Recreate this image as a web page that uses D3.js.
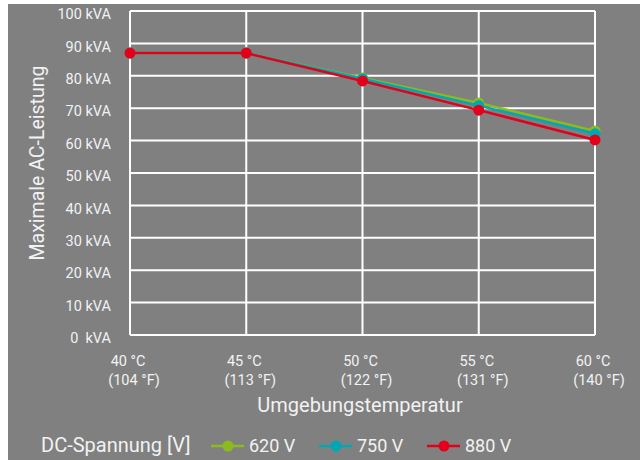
<!DOCTYPE html>
<html>
<head>
<meta charset="utf-8">
<script src="https://cdn.jsdelivr.net/npm/d3@7"></script>
<style>
  body { margin: 0; background: #fff; }
  text { font-family: "Roboto", "DejaVu Sans", sans-serif; fill: #f2f2f2; }
</style>
</head>
<body>
<svg id="chart" width="640" height="460"></svg>
<script>
"use strict";

// x categories: ambient temperature
var tempC = [40, 45, 50, 55, 60];
var tempF = [104, 113, 122, 131, 140];

// max AC power in kVA per DC voltage
var v620 = [87, 87, 79.3, 71.6, 63];
var v750 = [87, 87, 79.1, 70.8, 62.1];
var v880 = [87, 87, 78.4, 69.4, 60.2];

var yTicks = [0, 10, 20, 30, 40, 50, 60, 70, 80, 90, 100];

var series = [
  { name: "620 V", values: v620, color: "#8cbb1d" },
  { name: "750 V", values: v750, color: "#00a7b4" },
  { name: "880 V", values: v880, color: "#e2001a" }
];

var svg = d3.select("#chart");

// grey backdrop
svg.append("rect").attr("x", 8).attr("y", 4).attr("width", 632).attr("height", 456).attr("fill", "#808080");

// plot area edges
var pLeft = 130, pRight = 595, pTop = 11, pBottom = 335;

var x = d3.scalePoint().domain(tempC).range([pLeft, pRight]);
var y = d3.scaleLinear().domain([0, 100]).range([pBottom, pTop]);

//grid lines
var grid = svg.append("g");
grid.selectAll("line.h")
  .data(yTicks)
  .enter().append("line")
  .attr("class", "h")
  .attr("x1", pLeft).attr("x2", pRight)
  .attr("y1", function(d) { return y(d); })
  .attr("y2", function(d) { return y(d); })
  .attr("stroke", "#fff").attr("stroke-width", 2);
grid.selectAll("line.v")
  .data(tempC)
  .enter().append("line")
  .attr("class", "v")
  .attr("x1", function(d) { return x(d); })
  .attr("x2", function(d) { return x(d); })
  .attr("y1", pTop).attr("y2", pBottom)
  .attr("stroke", "#fff").attr("stroke-width", 2);

// y axis labels (sit a little below their grid line)
var yAxis = svg.append("g")
  .attr("transform", "translate(" + (pLeft - 19) + ",3)")
  .call(d3.axisLeft(y).tickValues(yTicks).tickSize(0).tickFormat(function(d) {
    return d === 0 ? "0\u00a0 kVA" : d + " kVA";
  }));
yAxis.select(".domain").remove();
yAxis.selectAll("text").attr("x", 0).attr("font-size", "14.5px").style("font-family", "Roboto, sans-serif").attr("fill", "#f2f2f2");

// x axis labels, two lines each
var xLab = svg.append("g").selectAll("g")
  .data(tempC)
  .enter().append("g")
  .attr("transform", function(d) { return "translate(" + x(d) + ",0)"; });
xLab.append("text")
  .attr("x", -2).attr("y", 366)
  .attr("text-anchor", "middle").attr("font-size", "14.5px")
  .text(function(d) { return d + " \u00b0C"; });
xLab.append("text")
  .attr("x", 4).attr("y", 385)
  .attr("text-anchor", "middle").attr("font-size", "14.5px")
  .text(function(d, i) { return "(" + tempF[i] + " \u00b0F)"; });

// axis titles
svg.append("text")
  .attr("transform", "translate(44,163) rotate(-90)")
  .attr("text-anchor", "middle").attr("font-size", "19.5px")
  .text("Maximale AC-Leistung");
svg.append("text")
  .attr("x", 360).attr("y", 412)
  .attr("text-anchor", "middle").attr("font-size", "20px")
  .text("Umgebungstemperatur");

// lines + markers
var line = d3.line()
  .x(function(d, i) { return x(tempC[i]); })
  .y(function(d) { return y(d); });

series.forEach(function(s) {
  var g = svg.append("g");
  g.append("path")
    .datum(s.values)
    .attr("d", line)
    .attr("fill", "none")
    .attr("stroke", s.color)
    .attr("stroke-width", 2.5);
  g.selectAll("circle")
    .data(s.values)
    .enter().append("circle")
    .attr("cx", function(d, i) { return x(tempC[i]); })
    .attr("cy", function(d) { return y(d); })
    .attr("r", 5.5)
    .attr("fill", s.color);
});

// legend
svg.append("text")
  .attr("x", 41).attr("y", 452).attr("font-size", "20px")
  .text("DC-Spannung [V]");

var legendX = [211, 319, 427];
var leg = svg.append("g").selectAll("g")
  .data(series)
  .enter().append("g")
  .attr("transform", function(d, i) { return "translate(" + legendX[i] + ",446)"; });
leg.append("line")
  .attr("x1", 0).attr("x2", 33).attr("y1", 0).attr("y2", 0)
  .attr("stroke", function(d) { return d.color; }).attr("stroke-width", 2.5);
leg.append("circle")
  .attr("cx", 17).attr("cy", 0).attr("r", 5.5)
  .attr("fill", function(d) { return d.color; });
leg.append("text")
  .attr("x", 38).attr("y", 6).attr("font-size", "18px")
  .text(function(d) { return d.name; });
</script>
</body>
</html>
